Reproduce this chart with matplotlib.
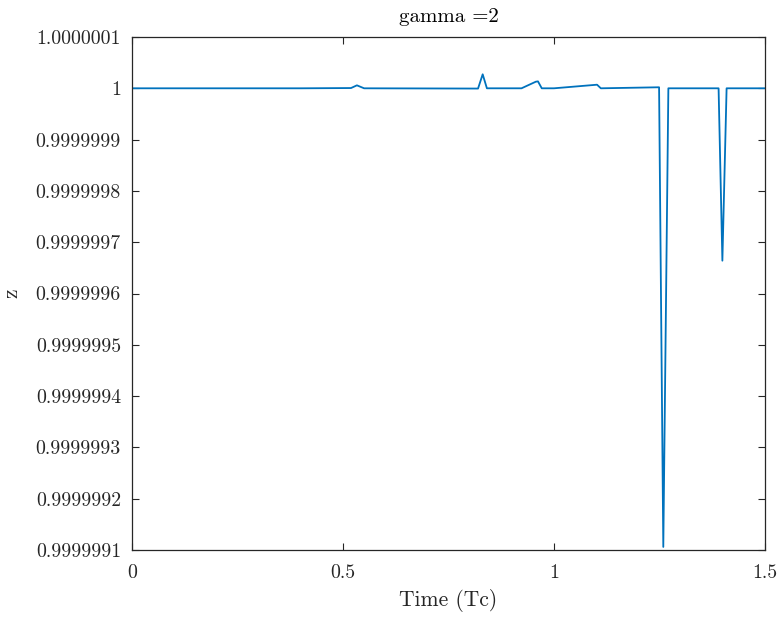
import matplotlib
matplotlib.use("Agg")
import matplotlib.pyplot as plt
from matplotlib.ticker import FixedLocator, FixedFormatter

# Sample times (in units of Tc) and deviation of z from 1 (in units of 1e-9)
t = [0.0, 0.40, 0.519, 0.533, 0.550, 0.82, 0.831, 0.841, 0.923, 0.957,
     0.962, 0.971, 1.0, 1.102, 1.111, 1.249, 1.259, 1.271, 1.390, 1.399,
     1.409, 1.5]
dz = [0.0, 0.0, 0.5, 5.8, 0.0, -0.5, 27.3, 0.0, 0.0, 12.9,
      13.5, 0.0, 0.0, 7.0, 0.0, 2.0, -894.0, 0.0, 0.0, -336.0,
      0.0, 0.0]

y_ticks = [1.0000001, 1.0, 0.9999999, 0.9999998, 0.9999997, 0.9999996,
           0.9999995, 0.9999994, 0.9999993, 0.9999992, 0.9999991]
y_tick_labels = ["1.0000001", "1", "0.9999999", "0.9999998", "0.9999997",
                 "0.9999996", "0.9999995", "0.9999994", "0.9999993",
                 "0.9999992", "0.9999991"]
x_ticks = [0, 0.5, 1, 1.5]
x_tick_labels = ["0", "0.5", "1", "1.5"]

z = [1.0 + d * 1e-9 for d in dz]

plt.rcParams["font.family"] = ["cmr10", "DejaVu Serif"]
plt.rcParams["mathtext.fontset"] = "cm"
plt.rcParams["axes.formatter.use_mathtext"] = True

fig = plt.figure(figsize=(7.82, 6.17), dpi=100)
ax = fig.add_axes([132 / 782, 1 - 550 / 617, (765 - 132) / 782, (550 - 37) / 617])

ax.plot(t, z, color="#0072BD", linewidth=1.3)

ax.set_xlim(0, 1.5)
ax.set_ylim(0.9999991, 1.0000001)
ax.yaxis.set_major_locator(FixedLocator(y_ticks))
ax.yaxis.set_major_formatter(FixedFormatter(y_tick_labels))
ax.xaxis.set_major_locator(FixedLocator(x_ticks))
ax.xaxis.set_major_formatter(FixedFormatter(x_tick_labels))

ax.tick_params(direction="in", top=True, right=True, length=5, width=0.8,
               color="#262626", labelsize=14.3, labelcolor="#262626")
ax.tick_params(axis="x", pad=10)
ax.tick_params(axis="y", pad=8)
for s in ax.spines.values():
    s.set_color("#262626")
    s.set_linewidth(0.9)

ax.set_title("gamma =2", fontsize=15, color="#000000", pad=11)
ax.set_xlabel("Time (Tc)", fontsize=15.5, color="#262626", labelpad=5)
ax.set_ylabel("z", fontsize=15.5, color="#262626", labelpad=10)

fig.savefig("out.png", dpi=100)
